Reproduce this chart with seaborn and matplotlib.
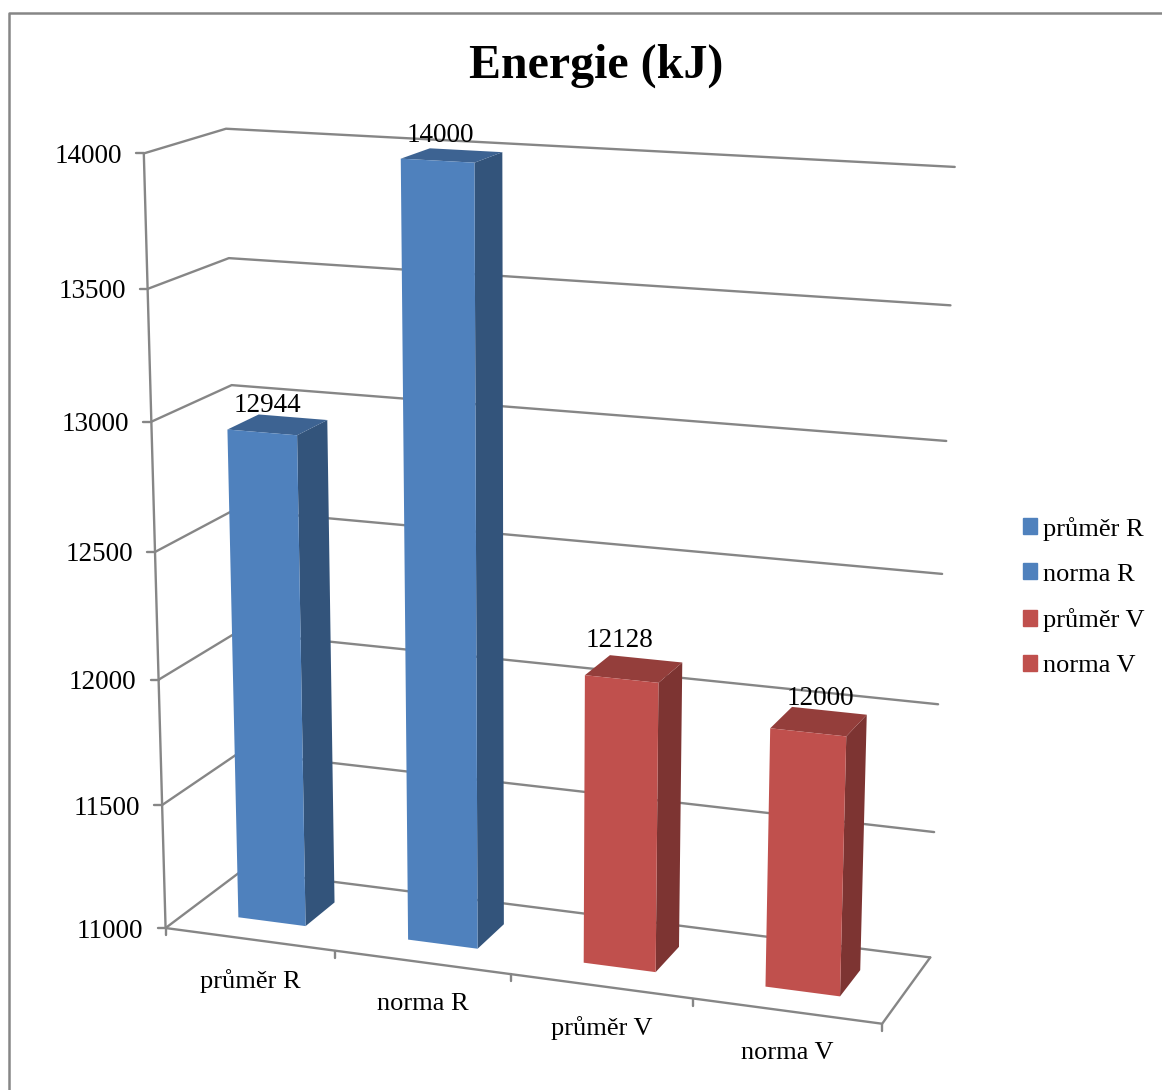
import matplotlib
matplotlib.use('Agg')
import matplotlib.pyplot as plt
from matplotlib.patches import Patch, Polygon
import numpy as np
import seaborn as sns

categories = ['průměr R', 'norma R', 'průměr V', 'norma V']
values = [12944, 14000, 12128, 12000]
value_ticks = [11000, 11500, 12000, 12500, 13000, 13500, 14000]
colors = ['#4F81BD', '#4F81BD', '#C0504D', '#C0504D']

GRAY = '#868686'
VMIN, VMAX = value_ticks[0], value_ticks[-1]
D0, D1 = 0.29, 0.69   # bar depth inside the floor
label_off = [(5, -27), (3, -25), (-2, -39), (12, -34)]

# where the chart box lands in the picture: (category pos, value, depth) -> pixel
calib = [
    (0, 11000, 0, 168, 927), (1, 11000, 0, 336.7, 951), (2, 11000, 0, 511.7, 975),
    (3, 11000, 0, 693, 1000), (4, 11000, 0, 882, 1023), (4, 11000, 1, 930, 957),
    (0, 11000, 1, 240, 871), (0, 14000, 0, 143.5, 154), (0, 14000, 1, 227, 129),
    (4, 14000, 1, 955, 167), (0, 13500, 0, 147.5, 289), (0, 13500, 1, 230, 258),
    (0, 13000, 1, 232, 385), (4, 13500, 1, 950, 305), (4, 13000, 1, 946, 441),
    (4, 12500, 1, 943, 574), (4, 12000, 1, 938, 704), (4, 11500, 1, 934, 832),
    (0, 13000, 0, 150, 421), (0, 12500, 0, 153, 552), (0, 12000, 0, 158, 680),
    (0, 11500, 0, 163, 804),
]


def fit_projection(pts):
    rows = []
    for u, val, d, px, py in pts:
        p = [u, (val - VMIN) / (VMAX - VMIN), d, 1]
        rows.append(p + [0, 0, 0, 0] + [-px * c for c in p])
        rows.append([0, 0, 0, 0] + p + [-py * c for c in p])
    return np.linalg.svd(np.array(rows))[2][-1].reshape(3, 4)


P = fit_projection(calib)


def proj(u, val, d):
    x, y, w = P @ np.array([u, (val - VMIN) / (VMAX - VMIN), d, 1])
    return x / w, y / w


sns.set_style('white')
plt.rcParams['font.family'] = ['Liberation Serif']

fig = plt.figure(figsize=(11.62, 10.90), dpi=100)
ax = fig.add_axes([0, 0, 1, 1])
ax.set_xlim(0, 1162)
ax.set_ylim(1090, 0)
ax.axis('off')

# seaborn works out the bars, they get projected below
helper = fig.add_axes([0, 0, 0.1, 0.1])
sns.barplot(x=categories, y=values, hue=categories, palette=colors, width=0.4,
            saturation=1, dodge=False, legend=False, ax=helper)
helper.set_visible(False)


def line(pts, lw=1.7, z=1):
    xs, ys = zip(*pts)
    ax.plot(xs, ys, color=GRAY, lw=lw, zorder=z, solid_capstyle='round')


# chart frame
line([(9, 1090), (9, 13), (1162, 13)], lw=1.8)

# walls and floor
for v in value_ticks:
    line([proj(0, v, 0), proj(0, v, 1), proj(4, v, 1)])
    x, y = proj(0, v, 0)
    line([(x - 8, y), (x, y)])
    ax.text(x - 22, y + 3, str(v), ha='right', va='center', fontsize=19.5, color='black')
line([proj(0, VMIN, 0), proj(0, VMAX, 0)])
line([proj(0, VMIN, 0), proj(4, VMIN, 0), proj(4, VMIN, 1)])
for u in range(5):
    x, y = proj(u, VMIN, 0)
    line([(x, y), (x, y + 7)])

# category labels
for i, name in enumerate(categories):
    x, y = proj(i + 0.5, VMIN, 0)
    ax.text(x + 0.5, y + 42, name, ha='center', va='center', fontsize=19, color='black')

# bars
bars = sorted(helper.patches, key=lambda b: b.get_x())
for i, b in enumerate(bars):
    u0 = b.get_x() + 0.5
    u1 = u0 + b.get_width()
    top = b.get_height()
    c = np.array(b.get_facecolor()[:3])
    front = [proj(u0, top, D0), proj(u1, top, D0), proj(u1, VMIN, D0), proj(u0, VMIN, D0)]
    roof = [proj(u0, top, D0), proj(u0, top, D1), proj(u1, top, D1), proj(u1, top, D0)]
    side = [proj(u1, top, D0), proj(u1, top, D1), proj(u1, VMIN, D1), proj(u1, VMIN, D0)]
    ax.add_patch(Polygon(side, closed=True, fc=c * 0.65, ec='none', zorder=3))
    ax.add_patch(Polygon(roof, closed=True, fc=c * 0.77, ec='none', zorder=3))
    ax.add_patch(Polygon(front, closed=True, fc=c, ec='none', zorder=4))
    x, y = proj((u0 + u1) / 2, top, D0)
    dx, dy = label_off[i]
    ax.text(x + dx, y + dy, f'{values[i]}', ha='center', va='center', fontsize=19.5,
            color='black', zorder=5)

fig.suptitle('Energie (kJ)', x=596 / 1162, y=1 - 66 / 1090, va='center',
             fontsize=34.5, fontweight='bold', color='black')

handles = [Patch(color=c, label=n) for c, n in zip(colors, categories)]
ax.legend(handles=handles, loc='center left', bbox_to_anchor=(1023, 597),
          bbox_transform=ax.transData, frameon=False, fontsize=19, handlelength=0.52,
          handleheight=0.52, handletextpad=0.22, labelspacing=0.87, borderpad=0,
          borderaxespad=0, labelcolor='black')

fig.savefig('out.png', dpi=100, facecolor='white')
